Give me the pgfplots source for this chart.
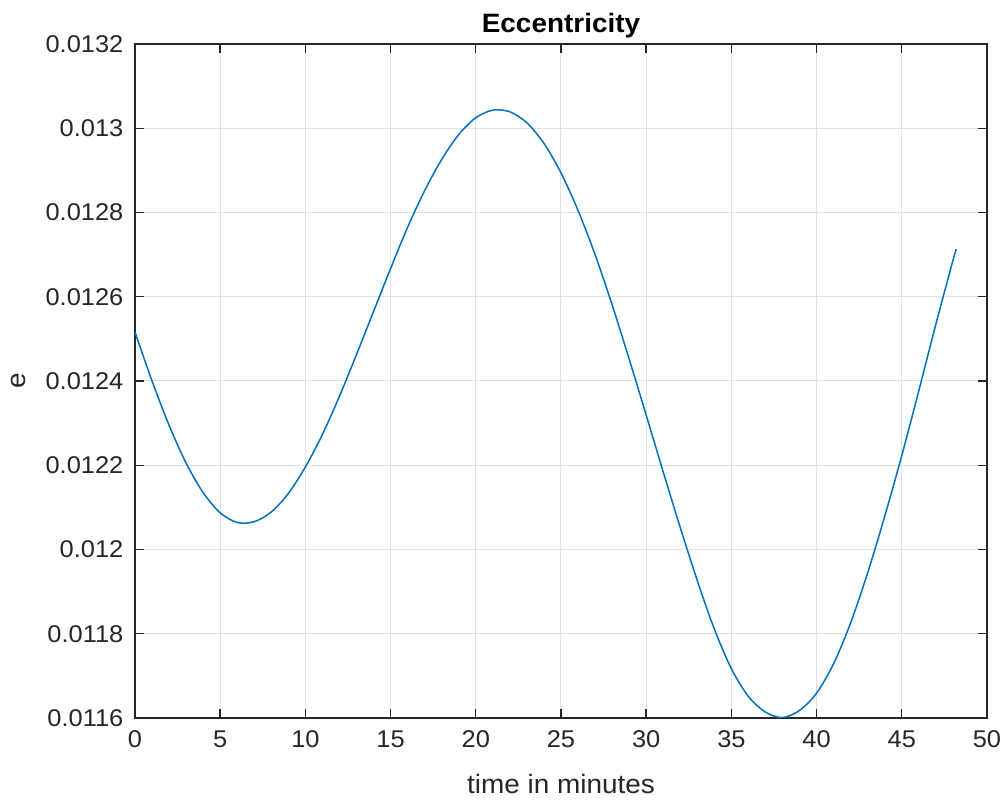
\documentclass[border=0pt]{standalone}
\usepackage{fontspec}
\setmainfont{Liberation Sans}[FakeStretch=1.05]
\usepackage{pgfplots}
\pgfplotsset{compat=1.18}
\usepackage{pgfplotstable}
\definecolor{mlblue}{HTML}{0072BD}
\definecolor{axgray}{HTML}{262626}
\definecolor{gridgray}{HTML}{E2E2E2}
\pgfplotstableread{
x y
0 0.012516
1 0.012400
2 0.012295
3 0.012205
4 0.012135
5 0.012087
6 0.012064
7 0.012066
8 0.012089
9 0.012133
10 0.012196
11 0.012273
12 0.012364
13 0.012463
14 0.012565
15 0.012667
16 0.012765
17 0.012852
18 0.012926
19 0.012985
20 0.013025
21 0.013043
22 0.013039
23 0.013013
24 0.012964
25 0.012894
26 0.012805
27 0.012700
28 0.012581
29 0.012452
30 0.012319
31 0.012184
32 0.012052
33 0.011926
34 0.011811
35 0.011717
36 0.011651
37 0.011614
38 0.011601
39 0.011618
40 0.011659
41 0.011729
42 0.011826
43 0.011945
44 0.012079
45 0.012223
46 0.012377
47 0.012535
48 0.012686
48.2 0.012713
}\ecc
\begin{document}
\begin{tikzpicture}
\path[use as bounding box] (0,0) rectangle (504pt,400.5pt);
\begin{axis}[
  at={(67.5pt,41.5pt)}, anchor=south west,
  scale only axis, width=426pt, height=337pt,
  xmin=0, xmax=50, ymin=0.0116, ymax=0.0132,
  xtick={0,5,...,50},
  ytick={0.0116,0.0118,0.012,0.0122,0.0124,0.0126,0.0128,0.013,0.0132},
  yticklabels={0.0116,0.0118,0.012,0.0122,0.0124,0.0126,0.0128,0.013,0.0132},
  /pgf/number format/assume math mode=true,
  scaled y ticks=false,
  tick pos=both, tick align=inside, major tick length=4.5pt,
  grid=major,
  major grid style={gridgray, line width=0.5pt},
  axis line style={axgray, line width=0.7pt},
  tick style={axgray, line width=0.7pt},
  ticklabel style={font=\fontsize{12.1}{14}\selectfont, text=axgray},
  yticklabel style={xshift=-2.3pt},
  xticklabel style={yshift=-3pt},
  title={Eccentricity},
  title style={font=\fontsize{13.3}{15}\selectfont\bfseries, text=black, at={(axis description cs:0.5,0.9996)}, anchor=base},
  xlabel={time in minutes},
  xlabel style={font=\fontsize{13.3}{15}\selectfont, text=axgray, at={(axis description cs:0.5,-0.112)}, anchor=base},
  ylabel={e},
  ylabel style={font=\fontsize{13.3}{15}\selectfont, text=axgray, at={(axis description cs:-0.137,0.5)}, anchor=center, rotate=0},
  clip=true,
]
\addplot[mlblue, line width=0.75pt, smooth, tension=0.5] table[x=x,y=y] {\ecc};
\end{axis}
\end{tikzpicture}
\end{document}
